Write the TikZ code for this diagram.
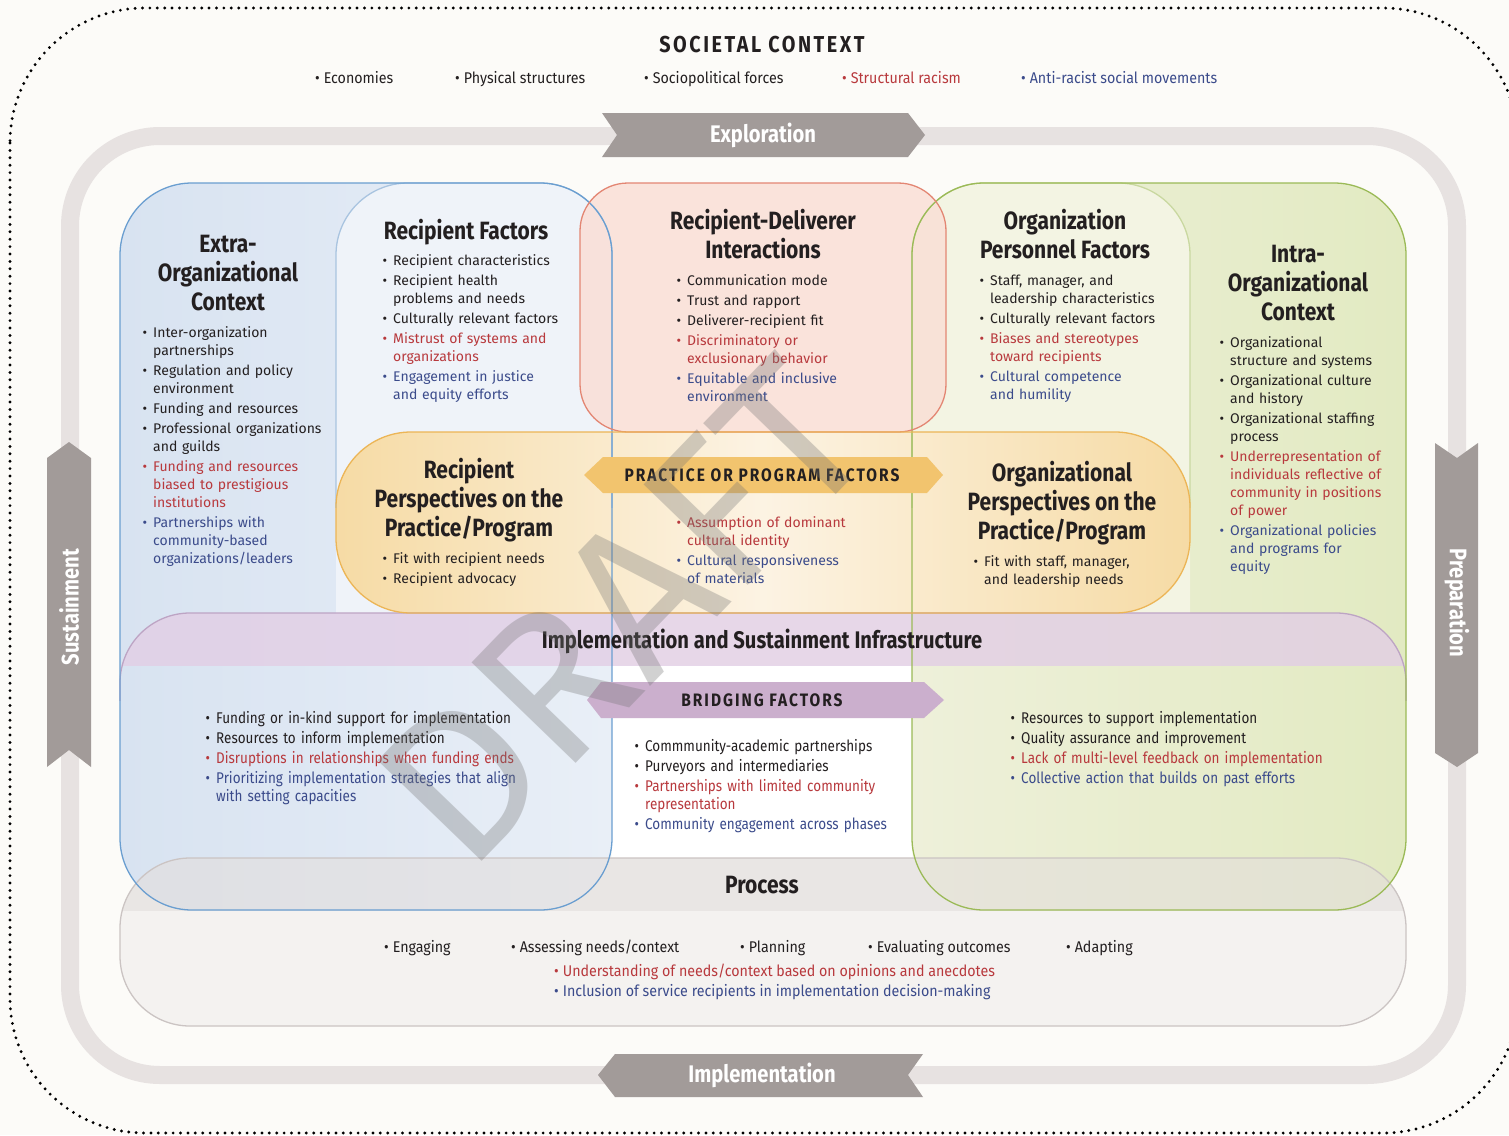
\documentclass[tikz,border=0pt]{standalone}
\usepackage{fontspec}
\setmainfont{Fira Sans}
\newfontfamily\condf[FakeStretch=0.92]{Fira Sans}
\newfontfamily\condg[FakeStretch=0.87]{Fira Sans}
\newfontfamily\headf[FakeStretch=0.84]{Fira Sans}
\newfontfamily\capsf[FakeStretch=0.86,LetterSpace=11]{Fira Sans}
\definecolor{bg}{HTML}{FCFBF8}
\definecolor{trackgray}{HTML}{E7E2E1}
\definecolor{arrowgray}{HTML}{A29B99}
\definecolor{tk}{HTML}{231F20}
\definecolor{tr}{HTML}{B8393D}
\definecolor{tb}{HTML}{3B4B8B}
\definecolor{blueline}{HTML}{6A9ED0}
\definecolor{bluelight}{HTML}{A9C4E0}
\definecolor{blueA}{HTML}{D8E3F1}
\definecolor{blueB}{HTML}{E9EFF7}
\definecolor{blueC}{HTML}{EFF3F9}
\definecolor{greenline}{HTML}{9BBA57}
\definecolor{greenlight}{HTML}{C9D8A0}
\definecolor{greenA}{HTML}{EEF0DA}
\definecolor{greenB}{HTML}{E2EAC2}
\definecolor{greenC}{HTML}{F3F4E3}
\definecolor{redline}{HTML}{E38673}
\definecolor{redfill}{HTML}{FADFD6}
\definecolor{orline}{HTML}{ECB556}
\definecolor{orA}{HTML}{F6DBA5}
\definecolor{orB}{HTML}{FCF3E3}
\definecolor{purline}{HTML}{BDA4C4}
\definecolor{purfill}{HTML}{E2CEE5}
\definecolor{procline}{HTML}{CBC4C3}
\definecolor{procA}{HTML}{E3DEDC}
\definecolor{procB}{HTML}{F4F2F0}
\definecolor{banorange}{HTML}{F2C46E}
\definecolor{banpurple}{HTML}{CBAFCD}
\newcommand\itm[2]{\hangindent=10.5pt\hangafter=1\noindent{\let\\\newline\color{#1}\makebox[10.5pt][l]{\textbullet}#2}\par}
\newcommand\bul[2]{{\color{#1}\textbullet\hspace{4pt}#2}}
\begin{document}
\begin{tikzpicture}[x=1pt,y=-1pt,
  lst/.style={anchor=base west, inner sep=0pt, text width=#1, align=left, text=tk,
    font=\fontsize{14}{18}\selectfont, execute at begin node={\setlength{\parskip}{2pt}}},
  lstc/.style={anchor=base west, inner sep=0pt, text width=#1, align=left, text=tk,
    font=\condg\fontsize{15.5}{18}\selectfont, execute at begin node={\setlength{\parskip}{2pt}}},
  one/.style={anchor=base west, inner sep=0pt, font=\condf\fontsize{15.5}{18}\selectfont},
  ttl/.style={anchor=base, inner sep=0pt, align=center, text=tk, font=\headf\bfseries\fontsize{25}{29}\selectfont},
  capt/.style={anchor=base, inner sep=0pt, text=tk, font=\capsf\bfseries\fontsize{#1}{#1}\selectfont},
  arrlbl/.style={inner sep=0pt, text=white, font=\headf\bfseries\fontsize{24}{29}\selectfont},
  edge/.style={line width=1.3pt}
]
\useasboundingbox (0,0) rectangle (1509,1135);
\fill[bg] (0,0) rectangle (1509,1135);
\draw[line width=3.2pt, dash pattern=on 0pt off 7.4pt, line cap=round, rounded corners=135pt] (10,8) rectangle (1518,1133);
\draw[trackgray, line width=18pt, rounded corners=90pt] (70,136) rectangle (1457,1075);
% phase arrows
\fill[arrowgray] (602,113) -- (908,113) -- (925,135) -- (908,157) -- (602,157) -- (617,135) -- cycle;
\fill[arrowgray] (598,1075) -- (615,1054) -- (923,1054) -- (908,1075) -- (923,1097) -- (615,1097) -- cycle;
\fill[arrowgray] (69,442) -- (91,458) -- (91,767) -- (69,750) -- (47,767) -- (47,458) -- cycle;
\fill[arrowgray] (1435,443) -- (1457,458) -- (1478,443) -- (1478,753) -- (1457,767) -- (1435,753) -- cycle;
% fills
\fill[procB, rounded corners=70pt] (120,858) rectangle (1406,1026);
\shade[left color=blueA, right color=blueB, rounded corners=72pt] (120,183) rectangle (612,910);
\shade[left color=greenA, right color=greenB, rounded corners=72pt] (912,183) rectangle (1406,910);
\begin{scope}
\clip (0,0) rectangle (1509,613);
\fill[blueC, rounded corners=72pt] (336,183) rectangle (612,700);
\fill[greenC, rounded corners=72pt] (912,183) rectangle (1190,700);
\end{scope}
\fill[redfill, fill opacity=0.85, rounded corners=48pt] (580,183) rectangle (946,432);
\shade[left color=orA, right color=orA, middle color=orB, rounded corners=75pt] (336,432) rectangle (1190,613);
\fill[white] (612,665) rectangle (912,858);
\begin{scope}
\clip (0,600) rectangle (1509,665);
\fill[purfill, fill opacity=0.8, rounded corners=70pt] (120,613) rectangle (1406,1000);
\end{scope}
\begin{scope}
\clip (0,850) rectangle (1509,910);
\fill[procA, fill opacity=0.6, rounded corners=70pt] (120,858) rectangle (1406,1026);
\end{scope}
% outlines
\draw[procline, edge, rounded corners=70pt] (120,858) rectangle (1406,1026);
\begin{scope}
\clip (0,600) rectangle (1509,700);
\draw[purline, edge, rounded corners=70pt] (120,613) rectangle (1406,1000);
\end{scope}
\begin{scope}
\clip (0,0) rectangle (1509,507);
\draw[bluelight, edge, rounded corners=72pt] (336,183) rectangle (612,700);
\draw[greenlight, edge, rounded corners=72pt] (912,183) rectangle (1190,700);
\end{scope}
\draw[blueline, edge, rounded corners=72pt] (120,183) rectangle (612,910);
\draw[greenline, edge, rounded corners=72pt] (912,183) rectangle (1406,910);
\draw[redline, edge, rounded corners=48pt] (580,183) rectangle (946,432);
\draw[orline, edge, rounded corners=75pt] (336,432) rectangle (1190,613);
% banners
\fill[banorange] (584,475) -- (603,457) -- (927,457) -- (943,475) -- (927,493) -- (603,493) -- cycle;
\fill[banpurple] (587,700) -- (601,682) -- (924,682) -- (944,700) -- (924,718) -- (601,718) -- cycle;
% arrow labels
\node[arrlbl] (explo) at (763,135) {Exploration};
\node[arrlbl] (impl) at (762,1075) {Implementation};
\node[arrlbl, rotate=90] (sust) at (69,607) {Sustainment};
\node[arrlbl, rotate=-90] (prep) at (1457,603) {Preparation};
% societal context
\node[capt=23] (soc) at (762,52) {SOCIETAL CONTEXT};
\node[one, text=tk] (eco) at (315,83) {\bul{tk}{Economies}};
\node[one, text=tk] (phys) at (455,83) {\bul{tk}{Physical structures}};
\node[one, text=tk] (socp) at (644,83) {\bul{tk}{Sociopolitical forces}};
\node[one, text=tr] (sracism) at (842,83) {\bul{tr}{Structural racism}};
\node[one, text=tb] (antir) at (1021,83) {\bul{tb}{Anti-racist social movements}};
% titles (anchor = baseline of last line)
\node[ttl] (extraT) at (228,310) {Extra-\\Organizational\\Context};
\node[ttl] (recfT) at (466,239) {Recipient Factors};
\node[ttl] (rdiT) at (763,258) {Recipient-Deliverer\\Interactions};
\node[ttl] (opfT) at (1065,258) {Organization\\Personnel Factors};
\node[ttl] (intraT) at (1298,320) {Intra-\\Organizational\\Context};
\node[ttl] (rppT) at (469,536) {Recipient\\Perspectives on the\\Practice/Program};
\node[ttl] (oppT) at (1062,539) {Organizational\\Perspectives on the\\Practice/Program};
\node[ttl, font=\headf\bfseries\fontsize{24}{29}\selectfont] (iasiT) at (762,648) {Implementation and Sustainment Infrastructure};
\node[ttl] (procT) at (762,893) {Process};
\node[capt=18] (ppf) at (762,481) {PRACTICE OR PROGRAM FACTORS};
\node[capt=18] (bf) at (762,706) {BRIDGING FACTORS};
% lists
\node[lst=190pt] (extraL) at (142.5,337) {%
\itm{tk}{Inter-organization\\partnerships}%
\itm{tk}{Regulation and policy\\environment}%
\itm{tk}{Funding and resources}%
\itm{tk}{Professional organizations\\and guilds}%
\itm{tr}{Funding and resources\\biased to prestigious\\institutions}%
\itm{tb}{Partnerships with\\community-based\\organizations/leaders}};
\node[lst=200pt] (recfL) at (382.5,265) {%
\itm{tk}{Recipient characteristics}%
\itm{tk}{Recipient health\\problems and needs}%
\itm{tk}{Culturally relevant factors}%
\itm{tr}{Mistrust of systems and\\organizations}%
\itm{tb}{Engagement in justice\\and equity efforts}};
\node[lst=200pt] (rdiL) at (676.5,285) {%
\itm{tk}{Communication mode}%
\itm{tk}{Trust and rapport}%
\itm{tk}{Deliverer-recipient fit}%
\itm{tr}{Discriminatory or\\exclusionary behavior}%
\itm{tb}{Equitable and inclusive\\environment}};
\node[lst=200pt] (opfL) at (979.5,285) {%
\itm{tk}{Staff, manager, and\\leadership characteristics}%
\itm{tk}{Culturally relevant factors}%
\itm{tr}{Biases and stereotypes\\toward recipients}%
\itm{tb}{Cultural competence\\and humility}};
\node[lst=180pt] (intraL) at (1219.5,347) {%
\itm{tk}{Organizational\\structure and systems}%
\itm{tk}{Organizational culture\\and history}%
\itm{tk}{Organizational staffing\\process}%
\itm{tr}{Underrepresentation of\\individuals reflective of\\community in positions\\of power}%
\itm{tb}{Organizational policies\\and programs for\\equity}};
\node[lst=200pt] (rppL) at (382.5,563) {%
\itm{tk}{Fit with recipient needs}%
\itm{tk}{Recipient advocacy}};
\node[lst=200pt] (ppfL) at (676.5,527) {%
\itm{tr}{Assumption of dominant\\cultural identity}%
\itm{tb}{Cultural responsiveness\\of materials}};
\node[lst=200pt] (oppL) at (973.5,566) {%
\itm{tk}{Fit with staff, manager,\\and leadership needs}};
\node[lstc=340pt] (infL) at (205.5,723) {%
\itm{tk}{Funding or in-kind support for implementation}%
\itm{tk}{Resources to inform implementation}%
\itm{tr}{Disruptions in relationships when funding ends}%
\itm{tb}{Prioritizing implementation strategies that align\\with setting capacities}};
\node[lstc=300pt] (bfL) at (634.5,751) {%
\itm{tk}{Commmunity-academic partnerships}%
\itm{tk}{Purveyors and intermediaries}%
\itm{tr}{Partnerships with limited community\\representation}%
\itm{tb}{Community engagement across phases}};
\node[lstc=340pt] (infR) at (1010.5,723) {%
\itm{tk}{Resources to support implementation}%
\itm{tk}{Quality assurance and improvement}%
\itm{tr}{Lack of multi-level feedback on implementation}%
\itm{tb}{Collective action that builds on past efforts}};
% process items
\node[one, text=tk] (eng) at (384,952) {\bul{tk}{Engaging}};
\node[one, text=tk] (ass) at (511,952) {\bul{tk}{Assessing needs/context}};
\node[one, text=tk] (plan) at (740,952) {\bul{tk}{Planning}};
\node[one, text=tk] (eval) at (868,952) {\bul{tk}{Evaluating outcomes}};
\node[one, text=tk] (adapt) at (1066,952) {\bul{tk}{Adapting}};
\node[one, text=tr] (procR) at (554,976) {\bul{tr}{Understanding of needs/context based on opinions and anecdotes}};
\node[one, text=tb] (procB) at (554,996) {\bul{tb}{Inclusion of service recipients in implementation decision-making}};
% watermark
\node[text=black!55, opacity=0.32, rotate=46, inner sep=0pt, font=\fontsize{210}{210}\selectfont] (draft) at (622,612) {DRAFT};
\end{tikzpicture}
\end{document}
